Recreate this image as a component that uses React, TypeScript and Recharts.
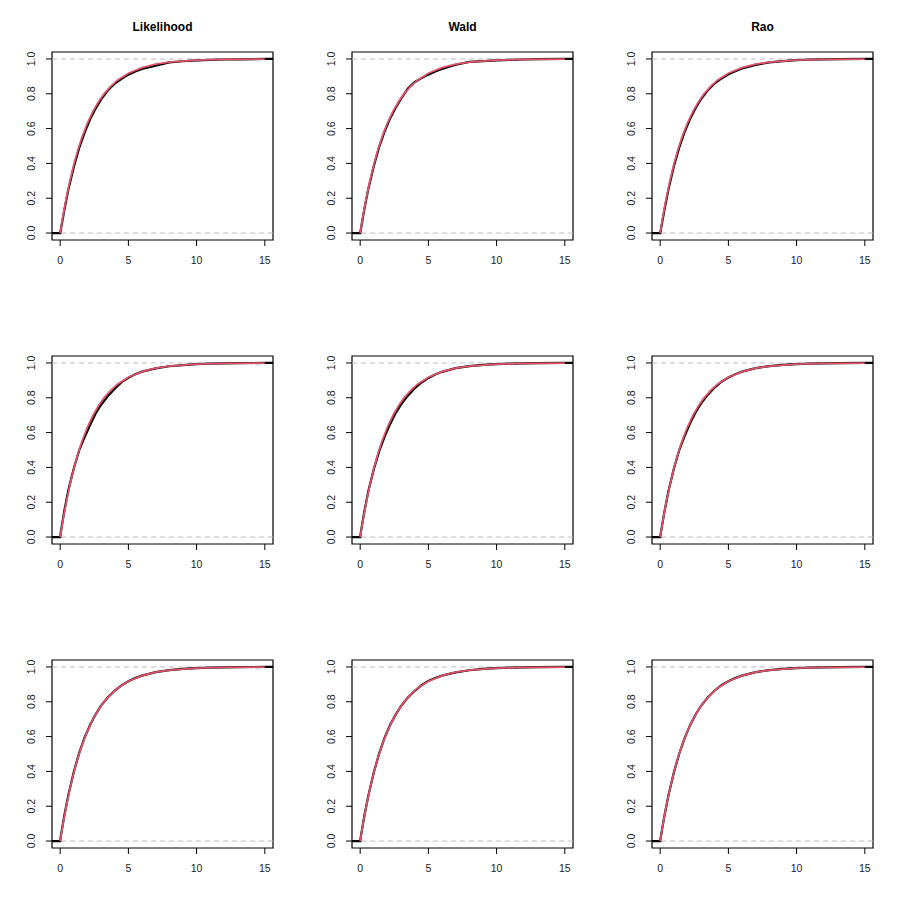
import { LineChart, Line, XAxis, YAxis, ReferenceLine, ReferenceArea } from "recharts";

const TITLES = ["Likelihood", "Wald", "Rao"];
const X_TICKS = [0, 5, 10, 15];
const Y_TICKS = [0, 0.2, 0.4, 0.6, 0.8, 1];
const X_DOMAIN: [number, number] = [-0.6, 15.6];
const Y_DOMAIN: [number, number] = [-0.04, 1.04];

// grid the empirical cdf was read at
const ECDF_X = [-0.6, 0, 0.05, 0.3, 0.6, 1, 1.4, 1.8, 2.2, 2.6, 3, 3.5, 4, 4.5, 5, 5.5, 6, 7, 8, 9, 10, 11, 12, 13, 15, 15.6];

const ecdfLik1 = [0, 0, 0.02, 0.13, 0.25, 0.38, 0.49, 0.578, 0.655, 0.715, 0.768, 0.82, 0.858, 0.886, 0.91, 0.928, 0.943, 0.962, 0.98, 0.987, 0.992, 0.995, 0.997, 0.998, 1, 1];
const ecdfWald1 = [0, 0, 0.022, 0.135, 0.255, 0.385, 0.497, 0.585, 0.66, 0.72, 0.772, 0.83, 0.868, 0.89, 0.91, 0.928, 0.943, 0.967, 0.983, 0.988, 0.992, 0.995, 0.997, 0.999, 1, 1];
const ecdfRao1 = [0, 0, 0.02, 0.128, 0.248, 0.382, 0.492, 0.582, 0.657, 0.718, 0.77, 0.821, 0.86, 0.888, 0.912, 0.93, 0.946, 0.966, 0.98, 0.988, 0.993, 0.996, 0.998, 0.999, 1, 1];
const ecdfLik2 = [0, 0, 0.03, 0.15, 0.27, 0.395, 0.5, 0.575, 0.645, 0.71, 0.76, 0.81, 0.852, 0.89, 0.915, 0.935, 0.95, 0.969, 0.981, 0.988, 0.993, 0.996, 0.998, 0.999, 1, 1];
const ecdfWald2 = [0, 0, 0.028, 0.145, 0.265, 0.39, 0.495, 0.578, 0.65, 0.712, 0.762, 0.812, 0.855, 0.888, 0.914, 0.934, 0.949, 0.97, 0.982, 0.989, 0.993, 0.996, 0.998, 0.999, 1, 1];
const ecdfRao2 = [0, 0, 0.025, 0.14, 0.262, 0.392, 0.5, 0.582, 0.655, 0.717, 0.768, 0.818, 0.86, 0.892, 0.916, 0.935, 0.95, 0.97, 0.982, 0.989, 0.993, 0.996, 0.998, 0.999, 1, 1];
const ecdfLik3 = [0, 0, 0.03, 0.145, 0.265, 0.398, 0.508, 0.597, 0.668, 0.728, 0.778, 0.826, 0.864, 0.894, 0.918, 0.936, 0.95, 0.97, 0.982, 0.989, 0.993, 0.996, 0.998, 0.999, 1, 1];
const ecdfWald3 = [0, 0, 0.027, 0.142, 0.262, 0.395, 0.505, 0.595, 0.668, 0.726, 0.776, 0.825, 0.863, 0.895, 0.92, 0.936, 0.95, 0.969, 0.981, 0.989, 0.993, 0.996, 0.998, 0.999, 1, 1];
const ecdfRao3 = [0, 0, 0.026, 0.14, 0.26, 0.393, 0.503, 0.593, 0.667, 0.727, 0.777, 0.826, 0.865, 0.895, 0.918, 0.936, 0.95, 0.97, 0.982, 0.989, 0.993, 0.996, 0.998, 0.999, 1, 1];

// reference cdf (red)
const CDF_X = [0, 0.2, 0.4, 0.7, 1, 1.3, 1.6, 2, 2.4, 2.8, 3.2, 3.7, 4.2, 5, 6, 7, 8, 10, 12, 15];
const CDF_Y = [0, 0.095, 0.181, 0.295, 0.393, 0.478, 0.551, 0.632, 0.699, 0.753, 0.798, 0.843, 0.878, 0.918, 0.95, 0.97, 0.982, 0.993, 0.9975, 0.9994];

const PANELS = [
  [ecdfLik1, ecdfWald1, ecdfRao1],
  [ecdfLik2, ecdfWald2, ecdfRao2],
  [ecdfLik3, ecdfWald3, ecdfRao3],
];

const FONT = "'Liberation Sans', Arial, Helvetica, sans-serif";
const RED = "#DF536B";
const TICK_FONT = 10.5;

const cdfData = CDF_X.map((x, i) => ({ x, y: CDF_Y[i] }));

const YTick = (props: any) => {
  const { y, payload } = props;
  const x = 35.5;
  return (
    <text x={x} y={y} transform={`rotate(-90 ${x} ${y})`} textAnchor="middle" fontSize={TICK_FONT} fill="#222" fontFamily={FONT}>
      {Number(payload.value).toFixed(1)}
    </text>
  );
};

function Panel({ row, col }: { row: number; col: number }) {
  const ecdf = PANELS[row][col];
  const ecdfData = ECDF_X.map((x, i) => ({ x, y: ecdf[i] }));
  return (
    <div style={{ position: "absolute", left: col * 300, top: row * 304, width: 300, height: 304 }}>
      {row === 0 && (
        <div
          style={{
            position: "absolute",
            left: 52,
            top: 20,
            width: 221,
            textAlign: "center",
            fontFamily: FONT,
            fontWeight: "bold",
            fontSize: 12,
            color: "#000",
          }}
        >
          {TITLES[col]}
        </div>
      )}
      <LineChart width={300} height={304} margin={{ top: 52, right: 27, left: 22, bottom: 34 }}>
        <XAxis
          dataKey="x"
          type="number"
          domain={X_DOMAIN}
          allowDataOverflow
          ticks={X_TICKS}
          axisLine={false}
          tickLine={{ stroke: "#000" }}
          tickSize={6}
          tickMargin={10.5}
          height={30}
          tick={{ fontSize: TICK_FONT, fill: "#222", fontFamily: FONT }}
        />
        <YAxis
          dataKey="y"
          type="number"
          domain={Y_DOMAIN}
          allowDataOverflow
          ticks={Y_TICKS}
          axisLine={false}
          tickLine={{ stroke: "#000" }}
          tickSize={6}
          width={30}
          tick={<YTick />}
        />
        <ReferenceLine y={0} stroke="#BBBBBB" strokeDasharray="5 4" />
        <ReferenceLine y={1} stroke="#BBBBBB" strokeDasharray="5 4" />
        <Line data={ecdfData} dataKey="y" type="linear" stroke="#000" strokeWidth={2.2} dot={false} isAnimationActive={false} />
        <Line data={cdfData} dataKey="y" type="linear" stroke={RED} strokeWidth={1.8} dot={false} isAnimationActive={false} />
        <ReferenceArea
          x1={X_DOMAIN[0]}
          x2={X_DOMAIN[1]}
          y1={Y_DOMAIN[0]}
          y2={Y_DOMAIN[1]}
          fill="none"
          fillOpacity={0}
          stroke="#000"
          strokeWidth={1.2}
        />
      </LineChart>
    </div>
  );
}

export default function App() {
  return (
    <div style={{ position: "absolute", left: 0, top: 0, width: 900, height: 913, background: "#fff" }}>
      {[0, 1, 2].map((row) => [0, 1, 2].map((col) => <Panel key={`${row}-${col}`} row={row} col={col} />))}
    </div>
  );
}
